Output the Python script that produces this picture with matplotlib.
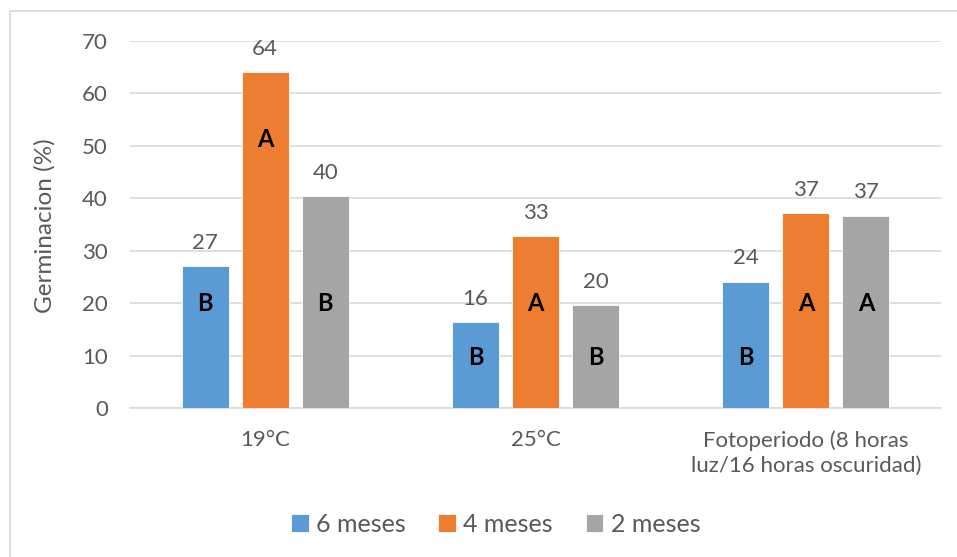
import numpy as np
import matplotlib.pyplot as plt
from matplotlib.patches import Rectangle

# Datos de germinacion (%) por tratamiento y edad de la semilla
tratamientos = ["19°C", "25°C", "Fotoperiodo (8 horas\nluz/16 horas oscuridad)"]
series = ["6 meses", "4 meses", "2 meses"]
seis_meses = [27.0, 16.4, 24.1]
cuatro_meses = [64.0, 32.8, 37.2]
dos_meses = [40.4, 19.6, 36.7]
letras = [["B", "B", "B"], ["A", "A", "A"], ["B", "B", "A"]]

colores = ["#5B9BD5", "#ED7D31", "#A5A5A5"]
gris_texto = "#595959"
# altura donde va cada letra de significancia (por serie)
letra_y = [[20, 9.7, 9.7], [51.3, 20, 20], [20, 9.7, 20]]

plt.rcParams['font.family'] = ['Lato', 'DejaVu Sans']

fig = plt.figure(figsize=(9.57, 5.57), dpi=100)
ax = fig.add_axes([130 / 957, 1 - 408 / 557, 811 / 957, 367 / 557])

# marco exterior del grafico
fig.patches.append(Rectangle((10 / 957, -0.1), 1.2, 1 - 11 / 557 + 0.1,
                             transform=fig.transFigure, fill=False,
                             edgecolor="#d9d9d9", linewidth=1.2))

x = np.arange(len(tratamientos))
paso = 60 / 270
ancho = 47 / 270
valores = [seis_meses, cuatro_meses, dos_meses]

for i, (nombre, vals) in enumerate(zip(series, valores)):
    pos = x + (i - 1) * paso
    ax.bar(pos, vals, width=ancho, color=colores[i], label=nombre,
           edgecolor="white", linewidth=0.6, zorder=3)
    for j, v in enumerate(vals):
        ax.annotate(f"{v:.0f}", (pos[j], v), xytext=(0, 12.5),
                    textcoords="offset points", ha="center", va="baseline",
                    fontsize=16, color=gris_texto)
        ax.text(pos[j], letra_y[i][j], letras[i][j], ha="center", va="center",
                fontsize=17, fontweight="bold", color="black", zorder=4)

ax.set_xlim(-0.5, 2.5)
ax.set_ylim(0, 70)
ax.set_yticks(np.arange(0, 71, 10))
ax.yaxis.grid(True, color="#d9d9d9", linewidth=1.2, zorder=0)
ax.set_axisbelow(True)
for lado in ["top", "right", "left"]:
    ax.spines[lado].set_visible(False)
ax.spines["bottom"].set_color("#d9d9d9")
ax.spines["bottom"].set_linewidth(1.2)
ax.tick_params(axis="both", length=0, labelsize=16, labelcolor=gris_texto)
ax.tick_params(axis="y", pad=16)
ax.tick_params(axis="x", pad=16)
ax.set_xticks(x)
ax.set_xticklabels(tratamientos, linespacing=1.3)

fig.text(45 / 957, 1 - 226 / 557, "Germinacion (%)", rotation=90,
         ha="center", va="center", fontsize=17.5, color=gris_texto)

fig.legend(loc="center", bbox_to_anchor=(0.518, 1 - 524 / 557), ncol=3,
           frameon=False, fontsize=18, labelcolor=gris_texto,
           handlelength=0.7, handleheight=0.7, handletextpad=0.3,
           columnspacing=1.3)

fig.savefig("out.png", dpi=100)
